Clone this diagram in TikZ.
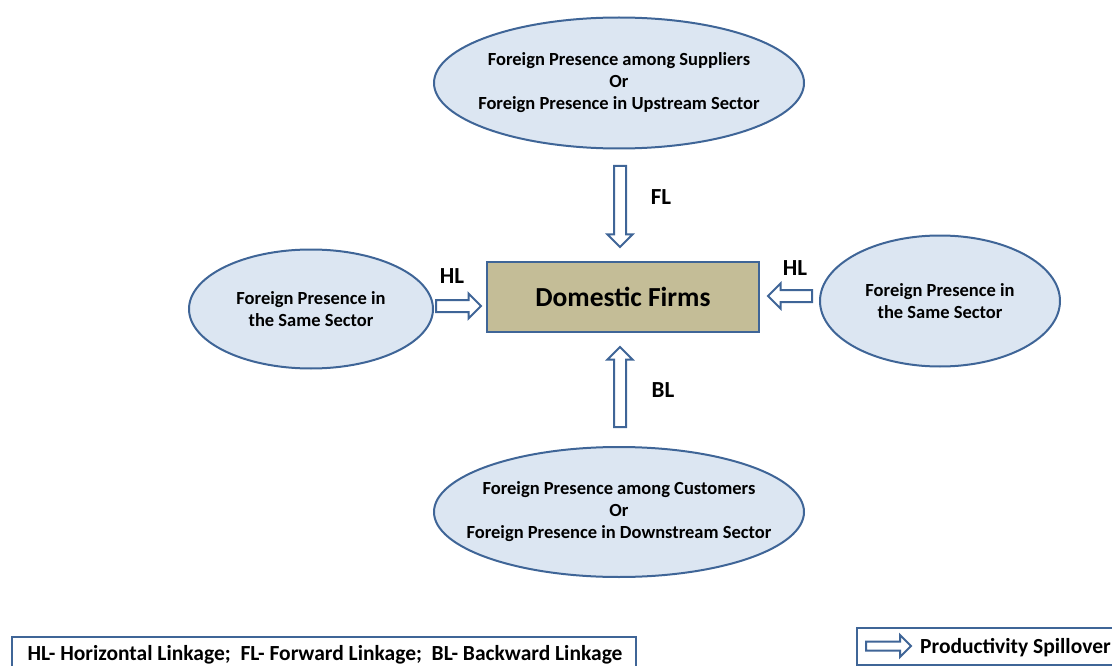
\documentclass[tikz,border=0pt]{standalone}
\usepackage{fontspec}
\setmainfont{Carlito}
\usetikzlibrary{shapes.geometric,shapes.arrows}
\definecolor{edge}{HTML}{3F6597}
\definecolor{bubble}{HTML}{DCE6F2}
\definecolor{firmtan}{HTML}{C4BD97}

\begin{document}
\begin{tikzpicture}[x=1pt, y=-1pt,
  presence/.style={ellipse, draw=edge, line width=2pt, fill=bubble, inner xsep=-40pt,
    inner ysep=-10pt, align=center, font=\fontsize{18.5}{22}\selectfont\bfseries},
  spill/.style={single arrow, draw=edge, line width=2pt, fill=white, inner sep=5pt,
    single arrow head extend=6.5pt, sloped, allow upside down, anchor=tail},
  link/.style={font=\fontsize{23}{26}\selectfont\bfseries},
  legend/.style={draw=edge, line width=2pt, fill=white},
  legendtext/.style={inner sep=0pt, font=\fontsize{21.5}{24}\selectfont\bfseries}]
  \useasboundingbox (0,0) rectangle (1112,666);

  % sources of foreign presence
  \node[presence, minimum width=370pt, minimum height=131pt] (up) at (619,83)
    {Foreign Presence among Suppliers\\Or\\Foreign Presence in Upstream Sector};
  \node[presence, minimum width=370pt, minimum height=130pt] (down) at (619,512)
    {Foreign Presence among Customers\\Or\\Foreign Presence in Downstream Sector};
  \node[presence, minimum width=244pt, minimum height=119pt] (west) at (311,309)
    {Foreign Presence in\\the Same Sector};
  \node[presence, minimum width=240pt, minimum height=131pt] (east) at (940,301)
    {Foreign Presence in\\the Same Sector};

  \node[draw=edge, line width=2pt, fill=firmtan, minimum width=272pt, minimum height=70pt,
    font=\fontsize{27.5}{30}\selectfont\bfseries] (firm) at (623,297) {Domestic Firms};

  % spillover arrows
  \coordinate (fl-a) at (620,165);
  \coordinate (fl-b) at (620,246);
  \coordinate (bl-a) at (620,428);
  \coordinate (bl-b) at (620,348);
  \coordinate (hw-a) at (435,306);
  \coordinate (hw-b) at (480,306);
  \coordinate (he-a) at (813,296);
  \coordinate (he-b) at (769,296);
  \path (fl-a) -- (fl-b) node[spill, at start, minimum height=81pt] (fl) {};
  \path (bl-a) -- (bl-b) node[spill, at start, minimum height=80pt] (bl) {};
  \path (hw-a) -- (hw-b) node[spill, at start, minimum height=45pt] (hw) {};
  \path (he-a) -- (he-b) node[spill, at start, minimum height=44pt] (he) {};

  \node[link] (fl-l) at (661,197) {FL};
  \node[link] (bl-l) at (663,390) {BL};
  \node[link] (hw-l) at (452,276) {HL};
  \node[link] (he-l) at (795,268) {HL};

  % legend
  \draw[legend] (12,637) rectangle (636,690);
  \node[legendtext] (abbr) at (325,655)
    {HL- Horizontal Linkage;\ \ FL- Forward Linkage;\ \ BL- Backward Linkage};
  \draw[legend] (857,628) rectangle (1150,665);
  \coordinate (key-a) at (865,646);
  \coordinate (key-b) at (910,646);
  \path (key-a) -- (key-b) node[spill, at start, minimum height=45pt, inner sep=3.5pt] (key-arrow) {};
  \node[legendtext, anchor=west] (key-text) at (920,648) {Productivity Spillover};
\end{tikzpicture}
\end{document}
